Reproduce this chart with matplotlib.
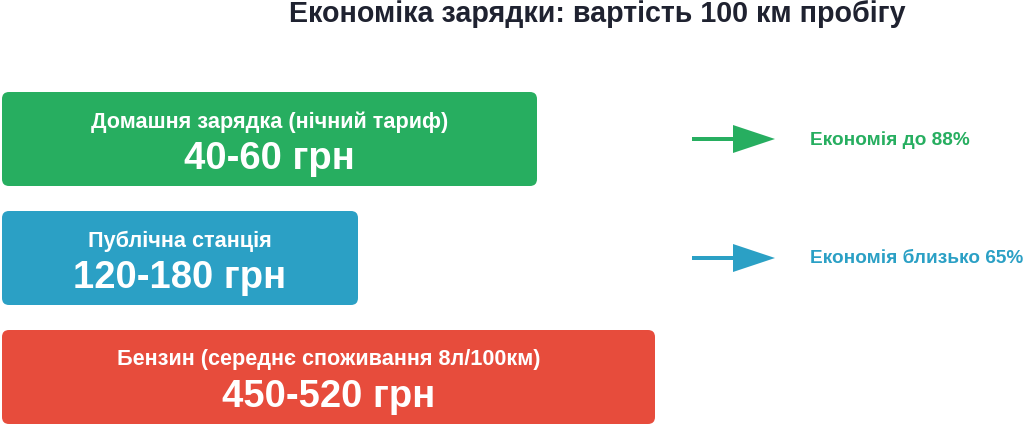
import matplotlib
matplotlib.use("Agg")
import matplotlib.pyplot as plt
from matplotlib.patches import FancyBboxPatch, FancyArrow

plt.rcParams['font.family'] = ['Liberation Sans', 'DejaVu Sans']

title = "Економіка зарядки: вартість 100 км пробігу"
categories = ["Домашня зарядка (нічний тариф)", "Публічна станція",
              "Бензин (середнє споживання 8л/100км)"]
cost_labels = ["40-60 грн", "120-180 грн", "450-520 грн"]
bar_lengths = [535, 356, 653]
colors = ["#27ae60", "#2ba0c5", "#e74c3c"]
savings = ["Економія до 88%", "Економія близько 65%"]

W, H = 1024, 427
fig = plt.figure(figsize=(W / 100, H / 100), dpi=100)
ax = fig.add_axes([0, 0, 1, 1])
ax.set_xlim(0, W)
ax.set_ylim(H, 0)
ax.axis('off')

ax.text(597, 14, title, ha='center', va='center', fontsize=20.6,
        fontweight='bold', color='#1f2230')

bar_top = [93, 212, 331]
bar_h = 94
x0 = 2
for i, (cat, val, L, c) in enumerate(zip(categories, cost_labels, bar_lengths, colors)):
    y = bar_top[i]
    p = FancyBboxPatch((x0, y), L, bar_h,
                       boxstyle="round,pad=0,rounding_size=7",
                       fc=c, ec='none', mutation_aspect=1)
    ax.add_patch(p)
    cx = x0 + L / 2
    ax.text(cx, y + 29, cat, ha='center', va='center', fontsize=15.6,
            fontweight='bold', color='white')
    ax.text(cx, y + 66, val, ha='center', va='center', fontsize=27.5,
            fontweight='bold', color='white')

for i, s in enumerate(savings):
    yc = bar_top[i] + 47
    c = colors[i]
    ax.add_patch(FancyArrow(692, yc, 83, 0, width=4, head_width=28,
                            head_length=42, length_includes_head=True,
                            fc=c, ec='none'))
    ax.text(810, yc, s, ha='left', va='center', fontsize=13.7,
            fontweight='bold', color=c)

fig.savefig("out.png", dpi=100)
